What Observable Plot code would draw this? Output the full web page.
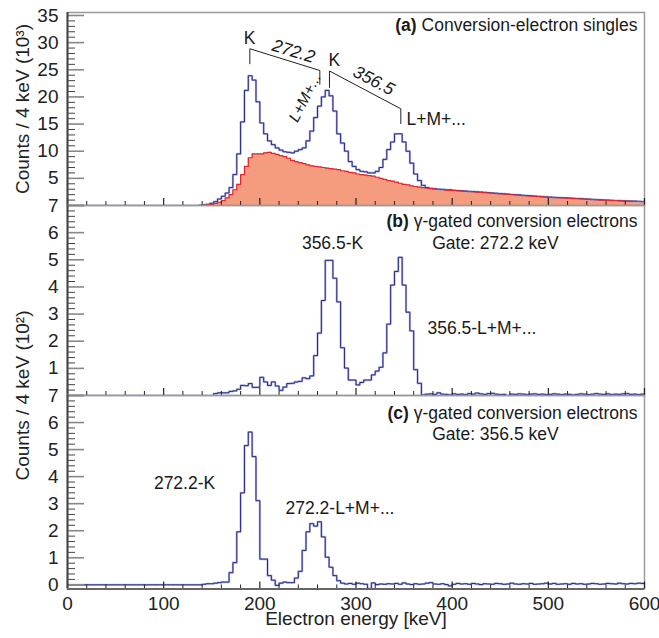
<!DOCTYPE html>
<html><head><meta charset="utf-8">
<script src="https://cdn.jsdelivr.net/npm/d3@7"></script>
<script src="https://cdn.jsdelivr.net/npm/@observablehq/plot@0.6"></script>
<style>
body{margin:0;background:#fff;}
#chart{position:relative;width:659px;height:638px;}
#chart svg{position:absolute;left:0;}
</style></head><body><div id="chart"></div>
<script>
// ---- data (counts per 4 keV bin, bins start at 0 keV) ----
const energyBinWidth = 4;
const energyTicks = [0, 100, 200, 300, 400, 500, 600];
const energyMinorTicks = [20,40,60,80,120,140,160,180,220,240,260,280,320,340,360,380,420,440,460,480,520,540,560,580];

// (a) singles, total (10^3)
const singlesTotal = [
0,0,0,0,0,0,0,0,0,0,
0,0,0,0,0,0,0,0,0,0,
0,0,0,0,0,0,0,0,0,0,
0,0,0,0,0.05,0.1,0.2,0.4,0.7,1.2,
1.7,2.3,3.3,5.7,9.5,15.4,21.2,23.9,23.1,19.1,
15.2,13.2,11.9,11.2,10.6,10.2,9.9,9.8,9.7,10.0,
10.3,10.6,11.9,13.7,16.2,18.3,20.0,21.2,20.2,17.4,
13.2,11.5,10.0,8.1,7.2,6.6,6.3,6.2,6.0,6.0,
6.3,7.0,8.5,10.3,11.7,13.2,13.2,11.7,10.0,7.8,
5.8,4.6,3.7,3.3,3.15,3.08,3.0,2.97,2.9,2.88,
2.8,2.76,2.7,2.66,2.6,2.57,2.5,2.46,2.42,2.35,
2.3,2.26,2.18,2.13,2.1,2.03,1.98,1.94,1.88,1.84,
1.78,1.72,1.68,1.62,1.58,1.53,1.5,1.46,1.43,1.4,
1.36,1.33,1.28,1.25,1.2,1.17,1.12,1.09,1.05,1.01,
0.98,0.95,0.92,0.89,0.86,0.83,0.81,0.79,0.76,0.74];

// (a) singles, background (10^3)
const singlesBackground = [
0,0,0,0,0,0,0,0,0,0,
0,0,0,0,0,0,0,0,0,0,
0,0,0,0,0,0,0,0,0,0,
0,0,0,0,0,0.05,0.1,0.2,0.4,0.6,
0.9,1.4,2.0,2.9,3.9,5.7,7.2,8.8,9.5,9.5,
9.5,9.7,9.8,9.6,9.4,9.2,9.0,8.7,8.3,8.1,
7.9,7.7,7.5,7.3,7.2,7.1,7.0,6.9,6.8,6.7,
6.6,6.4,6.3,6.1,6.0,5.8,5.7,5.6,5.5,5.4,
5.2,5.0,4.8,4.6,4.5,4.3,4.1,3.9,3.8,3.6,
3.5,3.4,3.3,3.2,3.1,3.0,2.95,2.9,2.85,2.8,
2.75,2.7,2.65,2.6,2.55,2.5,2.45,2.4,2.35,2.3,
2.25,2.2,2.12,2.08,2.03,1.98,1.93,1.88,1.83,1.78,
1.72,1.67,1.62,1.57,1.52,1.48,1.45,1.42,1.38,1.35,
1.32,1.28,1.24,1.2,1.16,1.12,1.08,1.04,1.0,0.97,
0.94,0.91,0.88,0.85,0.82,0.8,0.78,0.76,0.74,0.72];

// (b) gate 272.2 keV (10^2)
const gate272 = [
0,0,0,0,0,0,0,0,0,0,
0,0,0,0,0,0,0,0,0,0,
0,0,0,0,0,0,0,0,0,0,
0,0,0,0,0,0,-0.04,-0.04,0.07,0.1,
0.1,0.1,0.15,0.17,0.23,0.37,0.36,0.44,0.3,0.3,
0.67,0.5,0.37,0.5,0.35,0.19,0.31,0.44,0.45,0.5,
0.52,0.65,0.62,0.72,1.47,2.3,3.5,4.98,4.98,4.32,
3.45,1.76,1.01,0.57,0.57,0.39,0.48,0.57,0.57,0.76,
0.9,1.04,1.57,2.63,4.07,4.57,5.09,4.07,3.07,2.38,
0.95,0.45,0.02,0.05,0.06,0.04,0.1,0.05,0.04,0.02,
0.06,0.04,0.05,0.03,0.07,0.05,0.09,0.06,0.04,0.07,
0.08,0.05,0.03,0.04,0.0,0.05,0.04,0.06,0.05,0.03,
0.05,0.06,0.04,0.05,0.03,0.04,0.06,0.05,0.03,0.05,
0.04,0.02,0.04,0.06,0.05,0.03,0.05,0.07,0.05,0.04,
0.06,0.03,0.05,0.04,0.06,0.07,0.04,0.05,0.03,0.05];

// (c) gate 356.5 keV (10^2)
const gate356 = [
0,0,0,0,0,0,0,0,0,0,
0,0,0,0,0,0,0,0,0,0,
0,0,0,0,0,0,0,0,0,0,
0,0,0,0,0,0.02,0.04,0.04,0.06,0.08,
0.1,0.1,0.45,0.82,1.96,3.4,5.15,5.65,4.74,3.11,
0.95,0.95,0.34,0.17,-0.02,0.06,0.1,0.08,0.08,0.25,
0.5,1.27,1.96,2.26,2.17,2.33,1.77,1.02,0.65,0.34,
0.15,0.06,0.03,0.05,0.02,0.06,0.04,0.02,-0.14,0.07,
0.01,0.03,0.02,0.04,0.03,0.05,0.02,0.07,0.03,0.01,
0.04,0.02,0.03,0.06,0.08,0.03,0.02,0.04,0.01,-0.04,
0.02,0.05,0.03,0.04,0.02,0.05,0.03,0.01,0.04,0.03,
0.02,0.05,0.04,0.02,0.03,0.06,0.03,0.02,0.04,0.03,
0.05,0.02,0.03,0.04,0.06,0.03,0.05,0.02,0.03,0.04,
0.02,0.05,0.03,0.04,0.02,0.03,0.05,0.04,0.02,0.03,
0.05,0.04,0.03,0.06,0.04,0.03,0.05,0.04,0.06,0.05];

const yTicksA = [5, 10, 15, 20, 25, 30, 35];
const yMajorA = [0, 5, 10, 15, 20, 25, 30, 35];
const yMinorA = [1,2,3,4,6,7,8,9,11,12,13,14,16,17,18,19,21,22,23,24,26,27,28,29,31,32,33,34];
const yTicksB = [1, 2, 3, 4, 5, 6, 7];
const yTicksC = [0, 1, 2, 3, 4, 5, 6, 7];
const yMajorBC = [0, 1, 2, 3, 4, 5, 6, 7];
const yMinorBC = [0.2,0.4,0.6,0.8,1.2,1.4,1.6,1.8,2.2,2.4,2.6,2.8,3.2,3.4,3.6,3.8,4.2,4.4,4.6,4.8,5.2,5.4,5.6,5.8,6.2,6.4,6.6,6.8];

// annotations [keV, counts]
const annotA = [
  {x: 592.7, y: 33.2, text: "(a) Conversion-electron singles", size: 17.5, anchor: "end"},
  {x: 189.3, y: 30.7, text: "K", size: 17.5},
  {x: 277.6, y: 26.7, text: "K", size: 17.5},
  {x: 235, y: 28.4, text: "272.2", size: 17.5, rotate: 17, italic: true},
  {x: 318.5, y: 23.0, text: "356.5", size: 17.5, rotate: 27.5, italic: true},
  {x: 247.0, y: 19.9, text: "L+M+...", size: 15.5, rotate: -63, italic: true},
  {x: 352.5, y: 15.9, text: "L+M+...", size: 17.5, anchor: "start"}
];
const bracket272 = [{x: 189.6, y: 26.1}, {x: 189.6, y: 28.87}, {x: 262.4, y: 24.87}, {x: 262.4, y: 22.3}];
const bracket356 = [{x: 272.4, y: 21.74}, {x: 272.4, y: 24.78}, {x: 346.6, y: 17.81}, {x: 346.6, y: 15.1}];
const annotB = [
  {x: 592.7, y: 6.41, text: "(b) γ-gated conversion electrons", size: 17.5, anchor: "end"},
  {x: 445, y: 5.6, text: "Gate: 272.2 keV", size: 17.5},
  {x: 275.6, y: 5.6, text: "356.5-K", size: 17.5},
  {x: 374.3, y: 2.47, text: "356.5-L+M+...", size: 17.5, anchor: "start"}
];
const annotC = [
  {x: 592.7, y: 6.33, text: "(c) γ-gated conversion electrons", size: 17.5, anchor: "end"},
  {x: 445, y: 5.56, text: "Gate: 356.5 keV", size: 17.5},
  {x: 121.7, y: 3.75, text: "272.2-K", size: 17.5},
  {x: 226.7, y: 2.82, text: "272.2-L+M+...", size: 17.5, anchor: "start"}
];

// ---- drawing ----
const W = 659, ML = 67, MR = 15, frameW = W - ML - MR;
const navy = "#262a86", halo = "#b4b9e0", salmon = "#f59c7e", red = "#e4262c";

function histPoints(vals) {
  const pts = vals.map((v, i) => ({energy: i * energyBinWidth, counts: v}));
  pts.push({energy: vals.length * energyBinWidth, counts: vals[vals.length - 1]});
  return pts;
}

function panel(cfg) {
  const frameH = cfg.height - cfg.marginTop - cfg.marginBottom;
  const marks = [];
  if (cfg.fill) marks.push(Plot.areaY(histPoints(cfg.fill), {x: "energy", y: "counts", curve: "step-after", fill: salmon}));
  marks.push(Plot.frame({stroke: "#9a9a9a", strokeWidth: 1.5}));
  const pts = histPoints(cfg.line);
  marks.push(Plot.line(pts, {x: "energy", y: "counts", curve: "step-after", stroke: halo, strokeWidth: 2.2, clip: true}));
  marks.push(Plot.line(pts, {x: "energy", y: "counts", curve: "step-after", stroke: navy, strokeWidth: 1, clip: true}));
  if (cfg.fill) marks.push(Plot.line(histPoints(cfg.fill), {x: "energy", y: "counts", curve: "step-after", stroke: red, strokeWidth: 1.2}));
  // ticks (inside)
  marks.push(Plot.tickY(cfg.minorY, {y: d => d, stroke: "#444", strokeWidth: 1, insetRight: frameW - 8}));
  marks.push(Plot.tickY(cfg.majorY, {y: d => d, stroke: "#888", strokeWidth: 1.6, insetRight: frameW - 17}));
  marks.push(Plot.tickX(energyMinorTicks, {x: d => d, stroke: "#222", strokeWidth: 1, insetTop: frameH - 4}));
  marks.push(Plot.tickX(energyTicks, {x: d => d, stroke: "#222", strokeWidth: 1.2, insetTop: frameH - 7}));
  marks.push(Plot.ruleX([0], {stroke: "#444", strokeWidth: 2}));
  if (cfg.bottomRule) marks.push(Plot.ruleY([cfg.yDomain[0]], {stroke: "#666", strokeWidth: 2}));
  marks.push(Plot.axisY(cfg.yLabels, {tickSize: 0, tickPadding: 9, fontSize: 19, label: null, fill: "#222"}));
  if (cfg.xAxis) {
    marks.push(Plot.axisX(energyTicks, {tickSize: 0, tickPadding: 7, fontSize: 19, label: null, fill: "#222"}));
    marks.push(Plot.text(["Electron energy [keV]"], {text: d => d, frameAnchor: "bottom", lineAnchor: "middle", textAnchor: "middle", dy: 30, fontSize: 19, fill: "#222"}));
  }
  for (const b of (cfg.brackets || [])) {
    marks.push(Plot.line(b, {x: "x", y: "y", stroke: "#222", strokeWidth: 1}));
  }
  for (const a of cfg.annotations) {
    marks.push(Plot.text([a], {x: "x", y: "y", text: "text", fontSize: a.size, rotate: a.rotate || 0,
      textAnchor: a.anchor || "middle", lineAnchor: "middle", fontStyle: a.italic ? "italic" : "normal", fill: "#1a1a1a"}));
  }
  if (cfg.yTitle) {
    marks.push(Plot.text([cfg.yTitle], {text: d => d, frameAnchor: cfg.yTitleAnchor, textAnchor: "middle", lineAnchor: "middle", dx: -45, rotate: -90, fontSize: 19, fill: "#222"}));
  }
  const svg = Plot.plot({
    width: W, height: cfg.height,
    marginLeft: ML, marginRight: MR, marginTop: cfg.marginTop, marginBottom: cfg.marginBottom,
    x: {domain: [0, 600], axis: cfg.xAxis ? undefined : null},
    y: {domain: cfg.yDomain},
    style: {fontFamily: "'Liberation Sans', Arial, Helvetica, sans-serif", overflow: "visible", background: "transparent"},
    marks
  });
  svg.style.top = cfg.top + "px";
  svg.querySelectorAll("text").forEach(t => {
    const m = t.textContent.match(/^(\([abc]\))( .*)$/);
    if (m && t.children.length === 0) {
      t.textContent = "";
      const b = document.createElementNS("http://www.w3.org/2000/svg", "tspan");
      b.setAttribute("font-weight", "bold");
      b.textContent = m[1];
      t.appendChild(b);
      t.appendChild(document.createTextNode(m[2]));
    }
  });
  return svg;
}

const chart = document.getElementById("chart");
chart.appendChild(panel({
  top: 0, height: 205, marginTop: 12, marginBottom: 0, yDomain: [0, 35.55],
  line: singlesTotal, fill: singlesBackground,
  yLabels: yTicksA, majorY: yMajorA, minorY: yMinorA,
  annotations: annotA, brackets: [bracket272, bracket356],
  yTitle: "Counts / 4 keV (10³)", yTitleAnchor: "left"
}));
chart.appendChild(panel({
  top: 205, height: 190, marginTop: 0, marginBottom: 0, yDomain: [0, 7],
  line: gate272,
  yLabels: yTicksB, majorY: yMajorBC, minorY: yMinorBC,
  annotations: annotB,
  yTitle: "Counts / 4 keV (10²)", yTitleAnchor: "bottom-left"
}));
chart.appendChild(panel({
  top: 395, height: 243, marginTop: 0, marginBottom: 49.5, yDomain: [-0.155, 7],
  line: gate356,
  yLabels: yTicksC, majorY: yMajorBC, minorY: yMinorBC,
  annotations: annotC, xAxis: true, bottomRule: true
}));
</script>
</body></html>
